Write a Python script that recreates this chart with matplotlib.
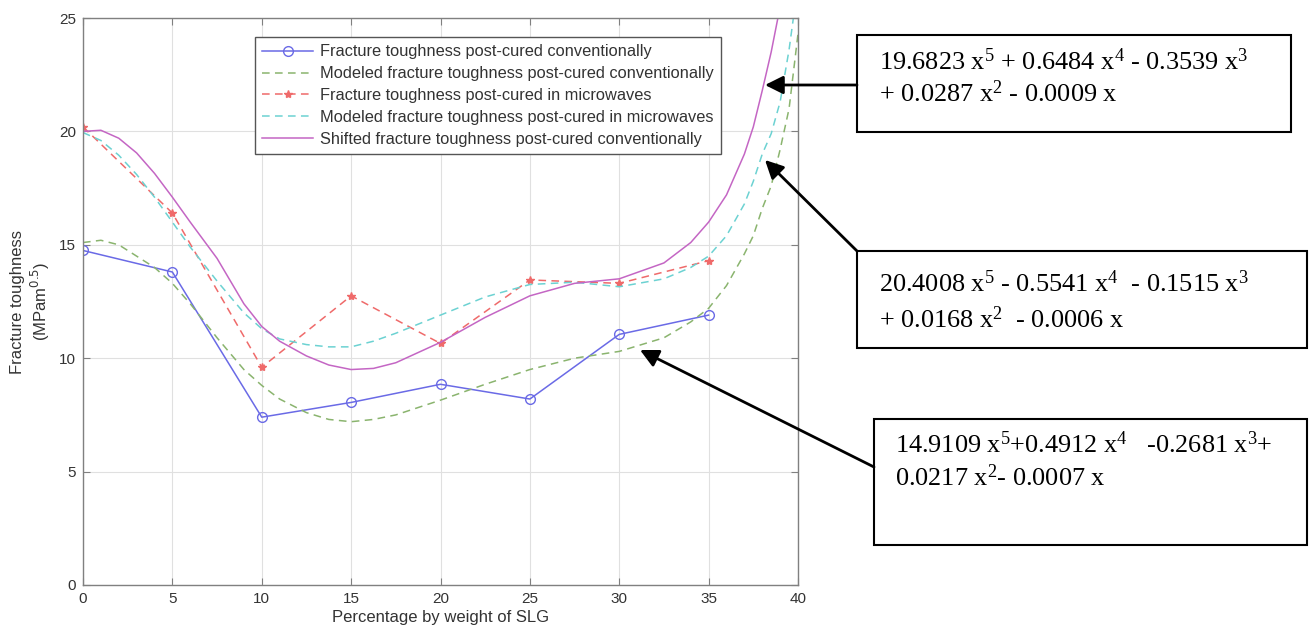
import matplotlib
matplotlib.use("Agg")
import matplotlib.pyplot as plt
from matplotlib.patches import Rectangle, FancyArrowPatch

# ---------------- data ----------------
x_data = [0, 5, 10, 15, 20, 25, 30, 35]
tough_conv = [14.75, 13.8, 7.4, 8.05, 8.85, 8.2, 11.05, 11.9]
tough_micro = [20.2, 16.4, 9.6, 12.75, 10.65, 13.45, 13.3, 14.3]

x_model = [0, 1, 2, 3, 4, 5, 6, 7.5, 9, 10, 11, 12.5, 13.75, 15, 16.25, 17.5,
           20, 22.5, 25, 27.5, 30, 32.5, 34, 35, 36, 37, 37.5, 38, 38.5, 39,
           39.5, 40]
model_conv = [15.1, 15.2, 15.0, 14.5, 14.0, 13.3, 12.4, 10.9, 9.5, 8.8, 8.2,
              7.6, 7.3, 7.2, 7.3, 7.5, 8.15, 8.85, 9.5, 10.0, 10.3, 10.9, 11.6,
              12.2, 13.2, 14.6, 15.4, 16.6, 17.6, 19.2, 21.0, 24.3]
model_micro = [19.95, 19.6, 18.95, 18.1, 17.1, 16.0, 14.9, 13.4, 12.0, 11.3,
               10.85, 10.6, 10.5, 10.5, 10.75, 11.1, 11.9, 12.7, 13.25, 13.35,
               13.15, 13.5, 14.0, 14.5, 15.4, 16.8, 17.8, 19.0, 19.9, 21.3,
               23.6, 26.5]
shifted_conv = [20.0, 20.05, 19.7, 19.05, 18.15, 17.1, 16.0, 14.4, 12.4, 11.4,
                10.75, 10.1, 9.7, 9.5, 9.55, 9.8, 10.7, 11.8, 12.75, 13.3, 13.5,
                14.2, 15.1, 16.0, 17.2, 19.0, 20.2, 21.8, 23.5, 25.5, 27.8, 30.0]

labels = ["Fracture toughness post-cured conventionally",
          "Modeled fracture toughness post-cured conventionally",
          "Fracture toughness post-cured in microwaves",
          "Modeled fracture toughness post-cured in microwaves",
          "Shifted fracture toughness post-cured conventionally"]

x_ticks = [0, 5, 10, 15, 20, 25, 30, 35, 40]
y_ticks = [0, 5, 10, 15, 20, 25]

eq_texts = [
    ["19.6823 x$^{5}$ + 0.6484 x$^{4}$ - 0.3539 x$^{3}$",
     "+ 0.0287 x$^{2}$ - 0.0009 x"],
    ["20.4008 x$^{5}$ - 0.5541 x$^{4}$  - 0.1515 x$^{3}$",
     "+ 0.0168 x$^{2}$  - 0.0006 x"],
    ["14.9109 x$^{5}$+0.4912 x$^{4}$   -0.2681 x$^{3}$+",
     "0.0217 x$^{2}$- 0.0007 x"],
]

# ---------------- style ----------------
plt.rcParams['font.family'] = ['Liberation Sans', 'DejaVu Sans']
plt.rcParams['mathtext.fontset'] = 'custom'
plt.rcParams['mathtext.rm'] = 'Liberation Serif'
plt.rcParams['mathtext.it'] = 'Liberation Serif:italic'
plt.rcParams['mathtext.bf'] = 'Liberation Serif:bold'

W, H = 1309, 630
fig = plt.figure(figsize=(W / 100, H / 100), dpi=100)

def fx(px):
    return px / W

def fy(py):
    return 1 - py / H

ax = fig.add_axes([fx(83), fy(585), fx(798) - fx(83), fy(18) - fy(585)])

c_blue = '#6a6ae6'
c_red = '#ef6a6a'
c_green = '#8ab46e'
c_cyan = '#6cd2d2'
c_mag = '#c466c4'

dash = (5, 3.5)
ax.plot(x_data, tough_conv, '-', color=c_blue, lw=1.1, marker='o', ms=7,
        mfc='none', mec=c_blue, mew=1.0, label=labels[0])
ax.plot(x_model, model_conv, '--', color=c_green, lw=1.1, dashes=dash,
        label=labels[1])
ax.plot(x_data, tough_micro, '--', color=c_red, lw=1.1, dashes=dash,
        marker='*', ms=6, mfc=c_red, mec=c_red, label=labels[2])
ax.plot(x_model, model_micro, '--', color=c_cyan, lw=1.1, dashes=dash,
        label=labels[3])
ax.plot(x_model, shifted_conv, '-', color=c_mag, lw=1.1, label=labels[4])

ax.set_xlim(0, 40)
ax.set_ylim(0, 25)
ax.set_xticks(x_ticks)
ax.set_yticks(y_ticks)
ax.grid(True, color='#e0e0e0', lw=0.8, ls='-')
ax.set_axisbelow(True)
for s in ax.spines.values():
    s.set_color('#808080')
    s.set_linewidth(1.0)
ax.tick_params(direction='in', top=True, right=True, length=5,
               color='#808080', labelsize=11, labelcolor='#333333', pad=5)

ax.set_xlabel("Percentage by weight of SLG", fontsize=12, color='#333333',
              labelpad=3)
ax.set_ylabel("Fracture toughness\n(MPam$^{0.5}$)", fontsize=12,
              color='#333333', labelpad=5, math_fontfamily='dejavusans')

leg = ax.legend(loc='upper left', bbox_to_anchor=(0.2406, 0.9665),
                borderaxespad=0, fontsize=11.8, frameon=True, fancybox=False,
                framealpha=1, edgecolor='#555555', handlelength=3.1,
                handletextpad=0.4, labelspacing=0.42, borderpad=0.45)
for t in leg.get_texts():
    t.set_color('#333333')
leg.get_frame().set_linewidth(1.0)

# ---------------- annotation boxes ----------------
boxes = [
    (857, 35, 1291, 132),
    (857, 251, 1307, 348),
    (874, 419, 1307, 545),
]
text_pos = [
    (879, 70, 102),
    (879, 292, 328),
    (895, 453, 486),
]
for (l, t, r, b), (tx, y1, y2), lines in zip(boxes, text_pos, eq_texts):
    fig.add_artist(Rectangle((fx(l), fy(b)), fx(r) - fx(l), fy(t) - fy(b),
                             transform=fig.transFigure, fill=False,
                             edgecolor='black', lw=1.5))
    fig.text(fx(tx), fy(y1), lines[0], fontsize=18.9,
             family='Liberation Serif', va='baseline', ha='left',
             math_fontfamily='custom')
    fig.text(fx(tx), fy(y2), lines[1], fontsize=18.9,
             family='Liberation Serif', va='baseline', ha='left',
             math_fontfamily='custom')

arrows = [
    ((857, 85), (765, 85)),
    ((857, 251), (765, 160)),
    ((874, 467), (640, 350)),
]
for (sx, sy), (ex, ey) in arrows:
    fig.add_artist(FancyArrowPatch((fx(sx), fy(sy)), (fx(ex), fy(ey)),
                                   transform=fig.transFigure,
                                   arrowstyle='-|>,head_length=11,head_width=5.5',
                                   mutation_scale=1, color='black', lw=2,
                                   shrinkA=0, shrinkB=0))

fig.savefig("out.png", dpi=100, facecolor='white')
